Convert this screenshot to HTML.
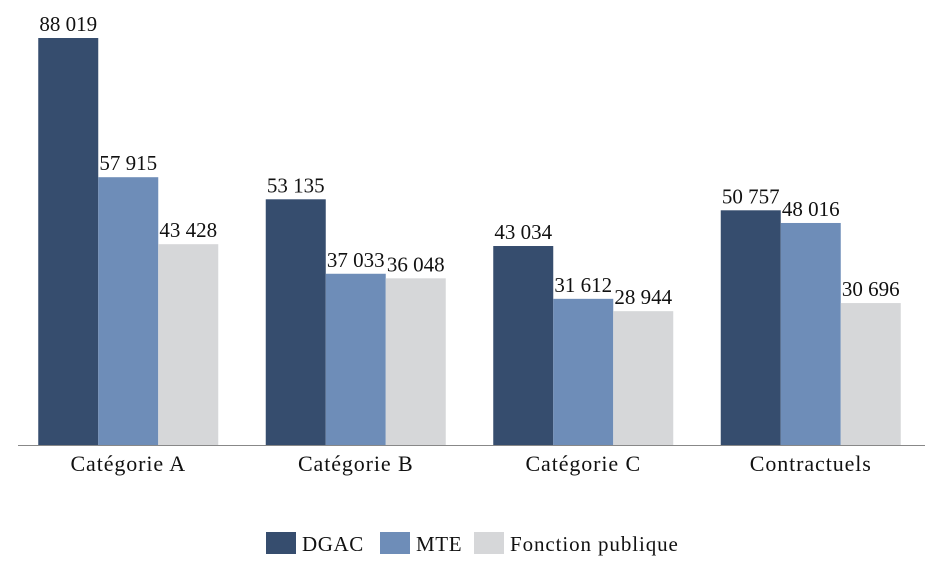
<!DOCTYPE html>
<html><head><meta charset="utf-8"><style>
body{margin:0;background:#fff;}
svg text{font-family:"Liberation Serif",serif;fill:#111;}
</style></head><body>
<svg id="chart" width="941" height="568" xmlns="http://www.w3.org/2000/svg">
<g id="bars"></g>
<line x1="18" y1="445.5" x2="925" y2="445.5" stroke="#888" stroke-width="1"/>
<g id="xlabels"></g>
<g>
<rect x="266" y="532" width="30" height="22" fill="#364d6e"/>
<text x="302" y="551" font-size="21" letter-spacing="0.6">DGAC</text>
<rect x="380" y="532" width="30" height="22" fill="#6e8db8"/>
<text x="416" y="551" font-size="21" letter-spacing="0.6">MTE</text>
<rect x="474" y="532" width="30" height="22" fill="#d6d7d9"/>
<text x="510" y="551" font-size="21" letter-spacing="0.9">Fonction publique</text>
</g>
</svg>
<script>
const categories=["Catégorie A","Catégorie B","Catégorie C","Contractuels"];
const dgac=[88019,53135,43034,50757];
const mte=[57915,37033,31612,48016];
const fonctionPublique=[43428,36048,28944,30696];
const seriesNames=["dgac","mte","fonction-publique"];
const colors=["#364d6e","#6e8db8","#d6d7d9"];
const series=[dgac,mte,fonctionPublique];
const NS="http://www.w3.org/2000/svg";
const base=445, x0=14.5, band=227.5, bw=60;
const k=407/88019;
function yScale(v){return base-v*k;}
function xBand(i){return x0+i*band+(band-3*bw)/2;}
function fmt(v){return String(v).replace(/\B(?=(\d{3})+(?!\d))/g," ");}
const gb=document.getElementById("bars");
series.forEach((s,si)=>{
  s.forEach((v,i)=>{
    const x=xBand(i)+si*bw, y=yScale(v);
    const r=document.createElementNS(NS,"rect");
    
    
    r.setAttribute("x",x);r.setAttribute("y",y);r.setAttribute("width",bw);r.setAttribute("height",base-y);r.setAttribute("fill",colors[si]);
    gb.appendChild(r);
    const t=document.createElementNS(NS,"text");
    
    
    t.setAttribute("x",x+bw/2);t.setAttribute("y",y-7);t.setAttribute("text-anchor","middle");t.setAttribute("font-size","21");
    t.textContent=fmt(v);gb.appendChild(t);
  });
});
const gx=document.getElementById("xlabels");
categories.forEach((c,i)=>{
  const t=document.createElementNS(NS,"text");
  
  
  t.setAttribute("x",x0+i*band+band/2);t.setAttribute("y",471);t.setAttribute("text-anchor","middle");t.setAttribute("font-size","22");t.setAttribute("letter-spacing","0.9");
  t.textContent=c;gx.appendChild(t);
});
</script>
</body></html>
